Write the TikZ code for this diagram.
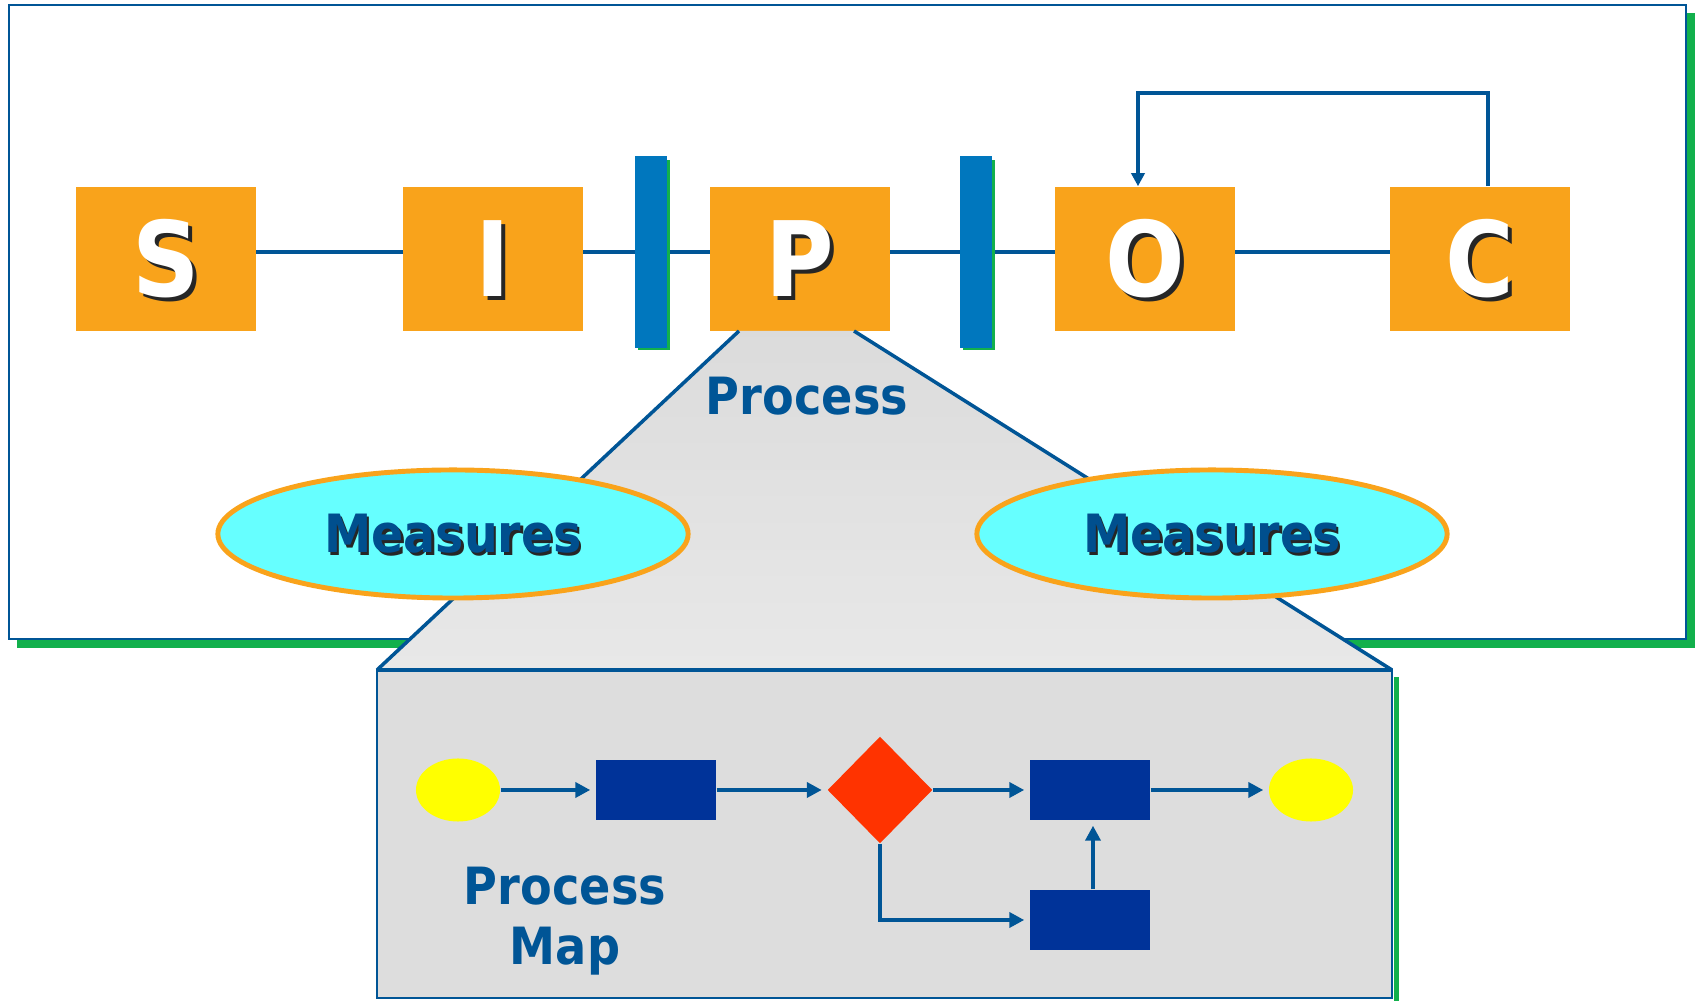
\documentclass[tikz,border=0pt]{standalone}
\usepackage{fontspec}
\setmainfont{DejaVu Sans}
\newfontfamily\sipocfont{DejaVu Sans Condensed}
\usepackage{tikz}
\usetikzlibrary{shapes.geometric, positioning, arrows.meta}
\usepackage{xcolor}
\definecolor{SipocOrange}{HTML}{F9A31B}
\definecolor{SipocLine}{HTML}{005596}
\definecolor{SipocBar}{HTML}{0077BE}
\definecolor{SipocGreen}{HTML}{12B04C}
\definecolor{MeasureCyan}{HTML}{66FFFF}
\definecolor{MeasureText}{HTML}{004F8E}
\definecolor{MapBlue}{HTML}{003399}
\definecolor{MapRed}{HTML}{FF3300}
\definecolor{MapYellow}{HTML}{FFFF00}
\definecolor{MapGray}{HTML}{DDDDDD}

\begin{document}
\begin{tikzpicture}[x=0.01cm, y=-0.01cm,
    letterbox/.style={fill=SipocOrange, minimum width=1.79cm, minimum height=1.44cm, inner sep=0pt},
    lettertext/.style={font=\sipocfont\bfseries\fontsize{29.6}{30}\selectfont, inner sep=0pt},
    stageline/.style={SipocLine, line width=1.3pt},
    measure/.style={ellipse, draw=SipocOrange, line width=1.4pt, fill=MeasureCyan, minimum width=4.7cm, minimum height=1.28cm},
    measuretext/.style={font=\sipocfont\bfseries\fontsize{15}{16}\selectfont, inner sep=0pt},
    proclabel/.style={font=\sipocfont\bfseries\fontsize{14.6}{17}\selectfont, text=SipocLine, inner sep=0pt},
    terminal/.style={ellipse, fill=MapYellow, minimum width=0.84cm, minimum height=0.63cm, inner sep=0pt},
    mapstep/.style={fill=MapBlue, minimum width=1.2cm, minimum height=0.6cm, inner sep=0pt},
    decision/.style={diamond, fill=MapRed, minimum width=1.05cm, minimum height=1.07cm, inner sep=0pt},
    maparrow/.style={SipocLine, line width=1.2pt, -{Triangle[length=0.15cm, width=0.15cm]}, shorten >=0.05cm}]
    \useasboundingbox (0,0) rectangle (1696,1001);

    % Outer frame with its green shadow
    \fill[SipocGreen] (17,13) rectangle (1695,648);
    \draw[SipocLine, line width=0.7pt, fill=white] (9,5) rectangle (1686,639);

    % S I P O C boxes
    \foreach \name/\x in {S/166, I/493, P/800, O/1145, C/1480} {
        \node[letterbox] (\name) at (\x,259) {};
    }
    \draw[stageline] ([yshift=0.07cm]S.east) -- ([yshift=0.07cm]I.west);
    \draw[stageline] ([yshift=0.07cm]I.east) -- ([yshift=0.07cm]P.west);
    \draw[stageline] ([yshift=0.07cm]P.east) -- ([yshift=0.07cm]O.west);
    \draw[stageline] ([yshift=0.07cm]O.east) -- ([yshift=0.07cm]C.west);
    \foreach \name in {S, I, P, O, C} {
        \node[lettertext, black!85] at ([xshift=0.04cm, yshift=-0.04cm]\name) {\name};
        \node[lettertext, white] at (\name) {\name};
    }

    % Process boundaries
    \foreach \x in {651, 976} {
        \fill[SipocGreen] (\x-13,160) rectangle (\x+19,350);
        \fill[SipocBar] (\x-16,156) rectangle (\x+16,348);
    }

    % Feedback from customer to output
    \coordinate (fbC) at (1488,93);
    \coordinate (fbO) at (1138,93);
    \draw[SipocLine, line width=1.1pt, -{Triangle[length=0.13cm, width=0.13cm]}]
        (C.north -| fbC) -- (fbC) -- (fbO) -- (O.north -| fbO);

    % Zoom into P
    \coordinate (zoomTL) at (739,331);
    \coordinate (zoomTR) at (854,331);
    \coordinate (zoomBL) at (377,670);
    \coordinate (zoomBR) at (1392,670);
    \shade[top color=black!14, bottom color=black!9] (zoomTL) -- (zoomTR) -- (zoomBR) -- (zoomBL) -- cycle;
    \draw[SipocLine, line width=1pt] (zoomTL) -- (zoomBL);
    \draw[SipocLine, line width=1pt] (zoomTR) -- (zoomBR);
    \node[proclabel] (proc) at (807,396) {Process};

    % Measures
    \foreach \name/\x in {mL/453, mR/1212} {
        \node[measure] (\name) at (\x,534) {};
        \node[measuretext, black!85] at ([xshift=0.025cm, yshift=-0.025cm]\name) {Measures};
        \node[measuretext, MeasureText] at (\name) {Measures};
    }

    % Process map panel
    \fill[SipocGreen] (1394,677) rectangle (1399,1001);
    \draw[SipocLine, line width=0.7pt, fill=MapGray] (zoomBL) rectangle (1392,998);
    \draw[SipocLine, line width=1pt] (zoomBL) -- (zoomBR);

    \node[terminal] (start) at (458,790) {};
    \node[mapstep] (stepA) at (656,790) {};
    \node[decision] (check) at (880,790) {};
    \node[mapstep] (stepB) at (1090,790) {};
    \node[terminal] (finish) at (1311,790) {};
    \node[mapstep] (stepC) at (1090,920) {};

    \draw[maparrow] (start) -- (stepA);
    \draw[maparrow] (stepA) -- (check);
    \draw[maparrow] (check) -- (stepB);
    \draw[maparrow] (stepB) -- (finish);
    \draw[maparrow] (check.south) |- (stepC.west);
    \draw[maparrow] ([xshift=0.03cm]stepC.north) -- ([xshift=0.03cm]stepB.south);

    \node[proclabel, align=center] (mapLabel) at (565,921) {Process\\Map};
\end{tikzpicture}
\end{document}
